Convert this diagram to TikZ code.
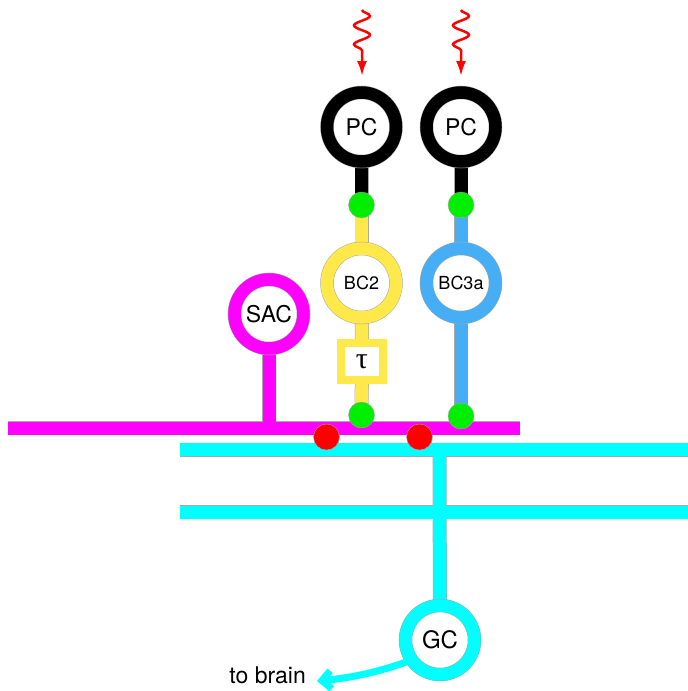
\documentclass[tikz,border=0pt]{standalone}
\usepackage{fontspec}
\setmainfont{TeX Gyre Heros}
\newfontfamily\taufont{Liberation Serif}
\usetikzlibrary{arrows.meta,decorations.pathmorphing,backgrounds}
\definecolor{bcyellow}{HTML}{FFE84A}
\definecolor{bcblue}{HTML}{45AEF5}
\definecolor{syngreen}{HTML}{00EE00}
\definecolor{edgegray}{HTML}{A8A8A8}
\definecolor{sacmag}{HTML}{FF00FF}
\definecolor{gccyan}{HTML}{00FFFF}
\definecolor{synred}{HTML}{FF0000}
\tikzset{
  ring/.style={circle, draw=edgegray, line width=0.5pt, double=#1, double distance=12.5pt,
    fill=white, minimum size=69pt, inner sep=0pt, font=\fontsize{23}{23}\selectfont},
  smallring/.style={ring=#1, font=\fontsize{18}{18}\selectfont},
  syn/.style={circle, fill=#1, draw=edgegray, line width=0.4pt, minimum size=26pt, inner sep=0pt},
  wire/.style={line width=13pt, draw=#1},
  wireedge/.style={line width=14pt, draw=edgegray},
  photon/.style={synred, line width=2.5pt, decorate,
    decoration={snake, amplitude=8pt, segment length=19pt, post length=20pt},
    -{Latex[length=15pt,width=10pt]}},
}
\begin{document}
\begin{tikzpicture}[x=1pt,y=-1pt]
\useasboundingbox (0,0) rectangle (688,691);
% coordinates
\coordinate (magL) at (8,428);
\coordinate (magR) at (520,428);
\coordinate (sacJ) at (269,428);
\coordinate (cyA1) at (180,449.5);
\coordinate (cyB1) at (688,449.5);
\coordinate (cyA2) at (180,512);
\coordinate (cyB2) at (688,512);
\coordinate (cyJ) at (439.5,449.5);
\coordinate (ph1a) at (362,10);
\coordinate (ph1b) at (362,76);
\coordinate (ph2a) at (461,10);
\coordinate (ph2b) at (461,76);
\coordinate (brain) at (317,681);
% cells
\node[ring=black] (pc1) at (361.5,127) {PC};
\node[ring=black] (pc2) at (461,127) {PC};
\node[smallring=bcyellow] (bc2) at (361.5,283) {BC2};
\node[smallring=bcblue] (bc3) at (461,283) {BC3a};
\node[ring=sacmag] (sac) at (269,314) {SAC};
\node[ring=gccyan, font=\fontsize{24}{24}\selectfont] (gc) at (440,640) {GC};
\node[rectangle, draw=edgegray, line width=0.5pt, double=bcyellow, double distance=7.5pt,
  fill=white, minimum width=42pt, minimum height=37pt, inner sep=0pt,
  font=\taufont\fontsize{30}{30}\selectfont] (tau) at (362,361.5) {τ};
% wires
\begin{pgfonlayer}{background}
  \draw[wireedge] (magL) -- (magR);
  \draw[wireedge] (sac) -- (sacJ);
  \draw[wireedge] (cyA1) -- (cyB1);
  \draw[wireedge] (cyA2) -- (cyB2);
  \draw[wireedge] (cyJ) -- (gc);
  \draw[wireedge] (pc1) -- (bc2);
  \draw[wireedge] (bc2) -- (tau);
  \draw[wireedge] (tau) -- (361.5,415);
  \draw[wireedge] (pc2) -- (461,416);
  \draw[wire=sacmag] (magL) -- (magR);
  \draw[wire=sacmag] (sac) -- (sacJ);
  \draw[wire=gccyan] (cyA1) -- (cyB1);
  \draw[wire=gccyan] (cyA2) -- (cyB2);
  \draw[wire=gccyan] (cyJ) -- (gc);
  \draw[wire=black] (pc1) -- (361.5,205);
  \draw[wire=bcyellow] (361.5,205) -- (bc2);
  \draw[wire=bcyellow] (bc2) -- (tau);
  \draw[wire=bcyellow] (tau) -- (361.5,415);
  \draw[wire=black] (pc2) -- (461,205);
  \draw[wire=bcblue] (461,205) -- (461,416);
\end{pgfonlayer}
% synapses
\node[syn=syngreen] (g1) at (361.5,205) {};
\node[syn=syngreen] (g2) at (461,205) {};
\node[syn=syngreen] (g3) at (361.5,415) {};
\node[syn=syngreen] (g4) at (461,416) {};
\node[syn=synred] (r1) at (326.5,437) {};
\node[syn=synred] (r2) at (419.5,437) {};
% light
\draw[photon] (ph1a) -- (ph1b);
\draw[photon] (ph2a) -- (ph2b);
% output
\draw[gccyan, line width=7pt, -{Straight Barb[length=9pt,width=18pt]}]
  (gc.215) .. controls (380,672) and (350,678) .. (brain);
\node[anchor=base east, font=\fontsize{23}{23}\selectfont, inner sep=0pt] (tb) at (306,683) {to brain};
\end{tikzpicture}
\end{document}
